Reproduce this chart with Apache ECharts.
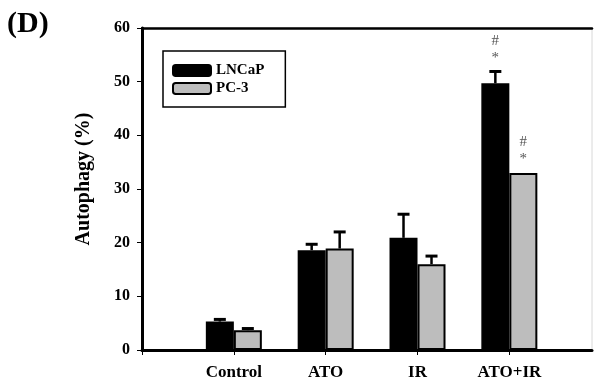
<!DOCTYPE html>
<html>
<head>
<meta charset="utf-8">
<script src="https://cdn.jsdelivr.net/npm/echarts@6/dist/echarts.min.js"></script>
<style>
  html, body { margin: 0; padding: 0; background: #fff; }
  #chart { width: 597px; height: 385px; }
</style>
</head>
<body>
<div id="chart"></div>
<script>
// groups on the x axis (placed at x = 1..4)
const categories = ['Control', 'ATO', 'IR', 'ATO+IR'];
// mean autophagy (%) and upper error
const lncap = [5.3, 18.6, 20.9, 49.7];
const lncapErr = [0.4, 1.1, 4.4, 2.2];
const pc3 = [3.7, 18.9, 16.0, 33.0];
const pc3Err = [0.3, 3.1, 1.5, 0];
const lncapMark = ['', '', '', '#\n*'];
const pc3Mark = ['', '', '', '#\n*'];
const yTicks = [0, 10, 20, 30, 40, 50, 60];

const serif = '"Liberation Serif", "DejaVu Serif", serif';
const BAR_W = 28;

const toPoints = arr => arr.map((v, i) => [i + 1, v]);

function errorSeries(name, vals, errs, marks, shift) {
  return {
    type: 'custom',
    name: name + ' err',
    z: 5,
    data: vals.map((v, i) => [i + 1, v, errs[i]]),
    renderItem: function (params, api) {
      const p = api.coord([api.value(0), api.value(1)]);
      const q = api.coord([api.value(0), api.value(1) + api.value(2)]);
      const x = p[0] + shift;
      const children = [];
      if (api.value(2) > 0) {
        children.push({ type: 'line', shape: { x1: x, y1: p[1], x2: x, y2: q[1] },
          style: { stroke: '#000', lineWidth: 2.5 } });
        children.push({ type: 'line', shape: { x1: x - 6, y1: q[1], x2: x + 6, y2: q[1] },
          style: { stroke: '#000', lineWidth: 3 } });
      }
      const mark = marks[params.dataIndex];
      if (mark) {
        children.push({ type: 'text', x: x, y: q[1] - 5,
          style: { text: mark, fill: '#555', font: '15px ' + serif, align: 'center',
            verticalAlign: 'bottom', lineHeight: 17 } });
      }
      return { type: 'group', children: children };
    }
  };
}

const chart = echarts.init(document.getElementById('chart'));
chart.setOption({
  animation: false,
  graphic: [{
    type: 'text', left: 7, top: 9,
    style: { text: '(D)', font: 'bold 30px ' + serif, fill: '#000' }
  }],
  grid: {
    left: 142, right: 5, top: 28, bottom: 35,
    show: true, borderColor: '#d8d8d8', borderWidth: 1
  },
  legend: {
    left: 163, top: 51, orient: 'vertical',
    data: ['LNCaP', 'PC-3'],
    icon: 'roundRect', itemWidth: 38, itemHeight: 11, itemGap: 3,
    borderColor: '#000', borderWidth: 1.5, padding: [12, 21, 11, 9],
    textStyle: { fontFamily: serif, fontWeight: 'bold', fontSize: 15, color: '#000' }
  },
  xAxis: [{
    type: 'value', min: 0, max: 4.9, interval: 1,
    axisLine: { onZero: false, lineStyle: { color: '#000', width: 3 } },
    axisTick: { show: true, length: 5, lineStyle: { color: '#000', width: 1 } },
    axisLabel: { margin: 14, fontFamily: serif, fontWeight: 'bold', fontSize: 17, color: '#000',
      showMaxLabel: false,
      formatter: v => categories[v - 1] || '' },
    splitLine: { show: false }
  }, {
    // top frame line
    type: 'value', position: 'top', min: 0, max: 4.9,
    axisLine: { show: true, onZero: false, lineStyle: { color: '#000', width: 2.5 } },
    axisTick: { show: false }, axisLabel: { show: false }, splitLine: { show: false }
  }],
  yAxis: {
    type: 'value', min: 0, max: 60, interval: 10,
    name: 'Autophagy (%)', nameLocation: 'middle', nameGap: 48,
    nameTextStyle: { fontFamily: serif, fontWeight: 'bold', fontSize: 20, color: '#000',
      padding: [0, 0, 0, 20] },
    axisLine: { show: true, lineStyle: { color: '#000', width: 3 } },
    axisTick: { show: true, length: 5, lineStyle: { color: '#000', width: 1 } },
    axisLabel: { margin: 12, fontFamily: serif, fontWeight: 'bold', fontSize: 16, color: '#000',
      formatter: v => yTicks.indexOf(v) >= 0 ? String(v) : '' },
    splitLine: { show: false }
  },
  series: [
    { name: 'LNCaP', type: 'bar', data: toPoints(lncap), barWidth: BAR_W, barGap: '0%',
      itemStyle: { color: '#000', borderColor: '#000', borderWidth: 1.5 } },
    { name: 'PC-3', type: 'bar', data: toPoints(pc3), barWidth: BAR_W, barGap: '0%',
      itemStyle: { color: '#bdbdbd', borderColor: '#000', borderWidth: 2 } },
    errorSeries('LNCaP', lncap, lncapErr, lncapMark, -BAR_W / 2),
    errorSeries('PC-3', pc3, pc3Err, pc3Mark, BAR_W / 2)
  ]
});
</script>
</body>
</html>
